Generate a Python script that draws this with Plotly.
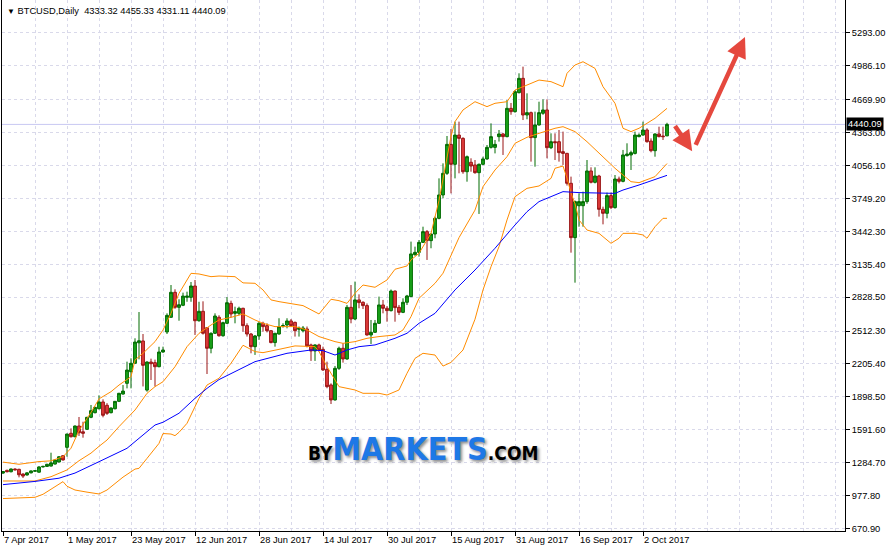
import plotly.graph_objects as go

# ---------------- data ----------------
x_tick_bars = [0, 16, 32, 48, 64, 80, 96, 112, 128, 144, 160]
x_tick_labels = ["7 Apr 2017", "1 May 2017", "23 May 2017", "12 Jun 2017", "28 Jun 2017",
                 "14 Jul 2017", "30 Jul 2017", "15 Aug 2017", "31 Aug 2017", "16 Sep 2017",
                 "2 Oct 2017"]
y_tick_values = [670.90, 977.80, 1284.70, 1591.60, 1898.50, 2205.40, 2512.30, 2828.50,
                 3135.40, 3442.30, 3749.20, 4056.10, 4363.00, 4669.90, 4986.10, 5293.00]

opens = [1188, 1213, 1200, 1226, 1223, 1179, 1170, 1190, 1205, 1196,
         1245, 1250, 1253, 1272, 1291, 1350, 1428, 1559, 1527, 1627,
         1573, 1596, 1708, 1751, 1788, 1851, 1820, 1751, 1788, 1857,
         1925, 2025, 2133, 2212, 2403, 2420, 1962, 2224, 2218, 2180,
         2317, 2504, 2641, 2874, 2734, 2753, 2827, 2827, 2933, 2609,
         2697, 2544, 2352, 2492, 2641, 2469, 2585, 2771, 2678, 2678,
         2725, 2563, 2485, 2367, 2467, 2585, 2563, 2516, 2405, 2485,
         2560, 2569, 2607, 2594, 2529, 2516, 2532, 2383, 2327, 2383,
         2342, 2156, 2010, 1870, 2165, 2352, 2252, 2734, 2625, 2803,
         2781, 2750, 2476, 2501, 2585, 2756, 2725, 2703, 2886, 2734,
         2687, 2781, 2834, 3225, 3247, 3340, 3440, 3356, 3418, 3564,
         3782, 3984, 4254, 4068, 4341, 4310, 3999, 4087, 4062, 3990,
         4068, 4118, 4226, 4226, 4326, 4351, 4326, 4590, 4559, 4736,
         4870, 4528, 4550, 4317, 4435, 4544, 4575, 4223, 4279, 4279,
         4186, 4170, 3891, 3384, 3682, 3682, 3720, 4006, 3900, 3959,
         3648, 3611, 3776, 3664, 3931, 3909, 4149, 4155, 4170, 4326,
         4341, 4388, 4285, 4195, 4351, 4332, 4333.32]
highs = [1205, 1220, 1230, 1232, 1228, 1185, 1195, 1212, 1214, 1252,
         1256, 1274, 1378, 1315, 1345, 1355, 1555, 1605, 1632, 1711,
         1667, 1712, 1823, 1806, 1913, 1876, 1840, 1800, 1860, 1936,
         2009, 2227, 2258, 2445, 2690, 2485, 2230, 2255, 2246, 2366,
         2367, 2678, 2942, 2902, 2809, 2871, 2880, 2970, 2989, 2786,
         2790, 2550, 2500, 2678, 2660, 2600, 2830, 2796, 2740, 2740,
         2730, 2585, 2495, 2475, 2600, 2600, 2585, 2520, 2495, 2632,
         2585, 2632, 2625, 2600, 2555, 2560, 2555, 2395, 2389, 2395,
         2367, 2227, 2025, 2187, 2367, 2398, 2756, 2942, 2974, 2855,
         2790, 2770, 2616, 2616, 2834, 2803, 2745, 2900, 2890, 2756,
         2818, 2850, 3347, 3300, 3362, 3486, 3455, 3420, 3580, 3937,
         4077, 4332, 4397, 4466, 4466, 4320, 4150, 4124, 4108, 4075,
         4139, 4248, 4450, 4295, 4388, 4360, 4668, 4640, 4761, 4917,
         4979, 4730, 4560, 4559, 4652, 4674, 4674, 4357, 4357, 4388,
         4373, 4175, 3953, 3730, 3797, 3813, 4108, 4040, 4040, 3970,
         3673, 3804, 3804, 3968, 3953, 4202, 4264, 4195, 4373, 4357,
         4466, 4404, 4310, 4357, 4419, 4419, 4455.33]
lows = [1180, 1195, 1195, 1215, 1148, 1142, 1165, 1185, 1200, 1192,
        1240, 1246, 1250, 1268, 1288, 1305, 1341, 1520, 1522, 1534,
        1518, 1590, 1700, 1745, 1782, 1708, 1730, 1745, 1782, 1850,
        1920, 1978, 1978, 2205, 2249, 1996, 1947, 2056, 1996, 2175,
        2310, 2485, 2635, 2720, 2609, 2745, 2786, 2786, 2476, 2600,
        2480, 2112, 2305, 2485, 2460, 2460, 2578, 2640, 2585, 2660,
        2507, 2461, 2305, 2290, 2430, 2507, 2500, 2398, 2367, 2480,
        2545, 2538, 2555, 2461, 2461, 2500, 2360, 2234, 2234, 2320,
        2140, 1979, 1832, 1864, 2150, 2218, 2245, 2585, 2615, 2725,
        2718, 2470, 2392, 2495, 2580, 2678, 2600, 2695, 2600, 2662,
        2680, 2756, 2830, 3215, 3207, 3335, 3176, 3285, 3378, 3555,
        3751, 3969, 3797, 3937, 3984, 3980, 3906, 3999, 3980, 3605,
        4060, 4110, 4215, 4170, 4280, 4155, 4320, 4530, 4550, 4730,
        4481, 4488, 4093, 4046, 4430, 4530, 4124, 4210, 4108, 4093,
        4062, 3870, 3244, 2964, 3486, 3486, 3700, 3890, 3890, 3580,
        3508, 3564, 3650, 3655, 3890, 3900, 4140, 4015, 4160, 4320,
        4335, 4270, 4180, 4139, 4320, 4295, 4331.11]
closes = [1202, 1200, 1226, 1218, 1172, 1160, 1190, 1208, 1210, 1245,
          1250, 1270, 1283, 1310, 1340, 1310, 1552, 1527, 1627, 1564,
          1559, 1708, 1770, 1801, 1851, 1727, 1745, 1795, 1857, 1932,
          1953, 2149, 2212, 2410, 2422, 2193, 2224, 2208, 2180, 2317,
          2336, 2659, 2874, 2734, 2758, 2839, 2839, 2933, 2609, 2697,
          2492, 2352, 2492, 2653, 2469, 2591, 2777, 2672, 2694, 2725,
          2563, 2485, 2367, 2467, 2585, 2554, 2516, 2405, 2492, 2554,
          2563, 2607, 2563, 2516, 2538, 2541, 2374, 2327, 2383, 2336,
          2150, 1994, 1870, 2165, 2352, 2252, 2734, 2625, 2803, 2778,
          2750, 2476, 2501, 2585, 2756, 2725, 2703, 2886, 2731, 2687,
          2781, 2840, 3232, 3247, 3340, 3440, 3356, 3418, 3564, 3782,
          3984, 4254, 4068, 4341, 4310, 3999, 4139, 4052, 3990, 4068,
          4118, 4226, 4326, 4254, 4351, 4326, 4590, 4559, 4746, 4870,
          4528, 4550, 4317, 4435, 4550, 4575, 4223, 4279, 4270, 4177,
          4170, 3891, 3384, 3720, 3720, 3720, 4006, 3900, 3959, 3648,
          3611, 3776, 3664, 3931, 3909, 4155, 4164, 4177, 4341, 4341,
          4388, 4279, 4195, 4351, 4326, 4326, 4440.09]
bars = list(range(len(opens)))

# Bollinger bands (upper / middle / lower) and moving average, read at sample bars
upper_bars = [0, 4, 9, 12, 15, 17, 19, 22, 24, 27, 29, 32, 33, 35, 38, 40, 42, 44, 47, 49, 52, 54,
              58, 60, 63, 65, 67, 69, 75, 79, 82, 84, 86, 88, 90, 93, 96, 98, 101, 102, 104, 107,
              109, 110, 111, 112, 113, 115, 118, 121, 123, 126, 128, 131, 134, 137, 140, 141, 143,
              145, 148, 150, 153, 155, 157, 159, 163, 166]
upper_vals = [1290, 1270, 1295, 1302, 1340, 1420, 1585, 1753, 1880, 1947, 2009, 2087, 2243, 2305,
              2414, 2522, 2678, 2864, 3051, 3045, 3020, 3026, 3020, 2962, 2958, 2896, 2803, 2787,
              2750, 2672, 2809, 2796, 2771, 2865, 2942, 2921, 2989, 3089, 3120, 3176, 3238, 3424,
              3730, 3918, 4140, 4330, 4466, 4575, 4652, 4606, 4637, 4652, 4761, 4808, 4854, 4839,
              4792, 4917, 4994, 5025, 4963, 4792, 4637, 4404, 4373, 4404, 4497, 4590]
middle_bars = [0, 8, 12, 16, 19, 22, 24, 26, 29, 33, 36, 38, 40, 43, 46, 49, 52, 54, 57, 60, 63,
               65, 68, 73, 76, 79, 83, 85, 88, 91, 94, 98, 100, 102, 104, 108, 110, 112, 114, 118,
               120, 123, 126, 128, 131, 134, 138, 140, 143, 146, 149, 153, 155, 157, 159, 163, 166]
middle_vals = [1114, 1114, 1154, 1217, 1303, 1374, 1437, 1496, 1621, 1776, 1932, 1994, 2040, 2180,
               2367, 2491, 2569, 2616, 2640, 2672, 2616, 2585, 2554, 2554, 2523, 2461, 2414, 2398,
               2414, 2445, 2461, 2476, 2523, 2647, 2818, 2958, 3052, 3219, 3384, 3641, 3860, 4015,
               4139, 4264, 4320, 4357, 4404, 4419, 4373, 4279, 4170, 4031, 3968, 3906, 3897, 3953,
               4075]
lower_bars = [0, 8, 10, 12, 15, 16, 18, 21, 24, 26, 30, 33, 34, 36, 39, 40, 42, 43, 44, 46, 49, 51,
              53, 54, 57, 60, 63, 65, 69, 73, 78, 79, 81, 83, 84, 88, 90, 94, 96, 99, 101, 103, 105,
              108, 110, 112, 115, 118, 120, 122, 124, 126, 128, 131, 134, 137, 138, 140, 141, 142,
              143, 144, 146, 149, 151, 152, 154, 155, 158, 160, 161, 163, 165, 166]
lower_vals = [950, 962, 990, 1035, 1108, 1065, 1030, 1010, 993, 1030, 1150, 1225, 1232, 1325, 1465,
              1557, 1552, 1537, 1568, 1652, 1885, 2009, 2056, 2072, 2212, 2380, 2321, 2311, 2342,
              2374, 2367, 2321, 2181, 2056, 1994, 1963, 1932, 1932, 1916, 1963, 2119, 2258, 2305,
              2289, 2186, 2220, 2336, 2623, 2896, 3113, 3300, 3549, 3766, 3844, 3866, 3937, 4031,
              4052, 3940, 3800, 3700, 3549, 3455, 3424, 3362, 3331, 3378, 3424, 3424, 3409, 3378,
              3486, 3564, 3564]
ma_bars = [0, 8, 14, 18, 24, 28, 31, 33, 35, 38, 40, 44, 48, 51, 54, 57, 63, 71, 77, 80, 83, 86,
           89, 93, 98, 101, 104, 108, 112, 113, 118, 123, 128, 131, 134, 138, 140, 144, 148, 153,
           155, 159, 166]
ma_vals = [1080, 1110, 1140, 1188, 1294, 1366, 1419, 1481, 1540, 1636, 1662, 1746, 1885, 1978,
           2060, 2118, 2227, 2305, 2336, 2330, 2289, 2336, 2367, 2383, 2445, 2492, 2585, 2678,
           2849, 2896, 3082, 3285, 3502, 3626, 3720, 3782, 3813, 3804, 3804, 3797, 3828, 3875,
           3965]

# drawn forecast arrows (bar, price): down leg then up leg
forecast_bars = [167.75, 172.3, 173.0, 185.5]
forecast_prices = [4440, 4190, 4235, 5255]

header_text = "BTCUSD,Daily\u00a0\u00a04333.32 4455.33 4331.11 4440.09"
last_price = 4440.09

# ---------------- figure ----------------
FONT = "Liberation Sans, Arial, sans-serif"
GRID = "#d9d9ea"

fig = go.Figure()

fig.add_trace(go.Candlestick(
    x=bars, open=opens, high=highs, low=lows, close=closes,
    increasing=dict(line=dict(color="#006a00", width=1), fillcolor="#1aa41a"),
    decreasing=dict(line=dict(color="#9a1515", width=1), fillcolor="#e03c3c"),
    whiskerwidth=0, hoverinfo="skip"))

band_style = dict(color="#ff8c00", width=1)
fig.add_trace(go.Scatter(x=upper_bars, y=upper_vals, mode="lines", line=band_style, hoverinfo="skip"))
fig.add_trace(go.Scatter(x=middle_bars, y=middle_vals, mode="lines", line=band_style, hoverinfo="skip"))
fig.add_trace(go.Scatter(x=lower_bars, y=lower_vals, mode="lines", line=band_style, hoverinfo="skip"))
fig.add_trace(go.Scatter(x=ma_bars, y=ma_vals, mode="lines", line=dict(color="#0000ff", width=1),
                         hoverinfo="skip"))

# bid line
fig.add_shape(type="line", xref="paper", x0=0, x1=1, yref="y", y0=last_price, y1=last_price,
              line=dict(color="#c9c9f2", width=1), layer="below")

annotations = []
# header
annotations.append(dict(xref="paper", yref="paper", x=0, y=1, xanchor="left", yanchor="top",
                        xshift=3, yshift=-4, showarrow=False,
                        text="<span style='font-size:8px'>\u25bc</span> " + header_text,
                        font=dict(family=FONT, size=9.3, color="black")))
# last price box
annotations.append(dict(xref="paper", yref="y", x=1, y=last_price, xanchor="left", yanchor="middle",
                        xshift=1, showarrow=False, text=f"{last_price:.2f}",
                        bgcolor="black", borderpad=1,
                        font=dict(family=FONT, size=9.3, color="white")))
# watermark with a soft drop shadow
wm = ("<b><span style='font-size:19px'>BY</span>"
      "<span style='font-size:32px;color:#1e78e6'>MARKETS</span>"
      "<span style='font-size:19px'>.COM</span></b>")
wm_font = "Liberation Sans Narrow, Arial Narrow, DejaVu Sans Condensed, Liberation Sans, sans-serif"
annotations.append(dict(xref="paper", yref="paper", x=(423 - 2) / 843, y=(531 - 449) / 531,
                        xanchor="center", yanchor="middle", showarrow=False, text=wm,
                        font=dict(family=wm_font, size=19, color="black",
                                  shadow="2px 2px 3px rgba(0,0,0,0.45)")))
# forecast arrows
for k in range(0, len(forecast_bars), 2):
    annotations.append(dict(xref="x", yref="y", axref="x", ayref="y",
                            x=forecast_bars[k + 1], y=forecast_prices[k + 1],
                            ax=forecast_bars[k], ay=forecast_prices[k],
                            showarrow=True, arrowhead=2, arrowsize=0.9, arrowwidth=4.5,
                            arrowcolor="#e5483e", text=""))

fig.update_layout(
    width=888, height=552,
    margin=dict(l=2, r=43, t=0, b=21, autoexpand=False),
    paper_bgcolor="white", plot_bgcolor="white",
    showlegend=False, boxgap=0.3, boxgroupgap=0,
    annotations=annotations,
    font=dict(family=FONT, size=9.3, color="black"),
)

fig.update_xaxes(
    range=[-0.25, 210.5], tickmode="array", tickvals=x_tick_bars, ticktext=x_tick_labels,
    ticks="outside", ticklen=4, tickcolor="black", ticklabelposition="outside right",
    showline=True, linecolor="black", linewidth=1, zeroline=False, automargin=False,
    showgrid=True, gridcolor=GRID, griddash="3px,3px", gridwidth=1,
    minor=dict(tickmode="linear", tick0=0, dtick=8, showgrid=True, gridcolor=GRID,
               griddash="3px,3px", ticklen=0),
    rangeslider=dict(visible=False), tickfont=dict(family=FONT, size=9.3, color="black"),
    fixedrange=True)

fig.update_yaxes(
    range=[5600.7 - 9.328 * 531, 5600.7], side="right", tickmode="array",
    tickvals=y_tick_values, ticktext=[f"{v:.2f}" for v in y_tick_values],
    ticks="outside", ticklen=4, tickcolor="black", automargin=False,
    showline=True, linecolor="black", linewidth=1, mirror=True, zeroline=False,
    showgrid=True, gridcolor=GRID, griddash="3px,3px", gridwidth=1,
    tickfont=dict(family=FONT, size=9.3, color="black"), fixedrange=True)

fig.write_html("out.html", config={"displayModeBar": False},
               post_script="document.body.style.margin='0px';document.body.style.padding='0px';")
